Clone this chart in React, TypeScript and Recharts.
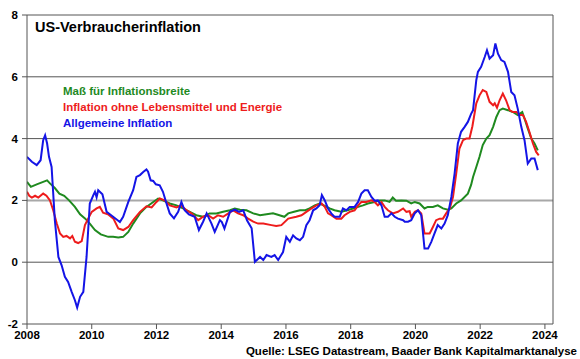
import React from "react";
import { LineChart, Line, XAxis, YAxis, ReferenceLine } from "recharts";

const xTicks = [2008, 2010, 2012, 2014, 2016, 2018, 2020, 2022, 2024];
const yTicks = [-2, 0, 2, 4, 6, 8];

const seriesNames = [
  "Maß für Inflationsbreite",
  "Inflation ohne Lebensmittel und Energie",
  "Allgemeine Inflation",
];

const blueDates = [2008.0, 2008.15, 2008.3, 2008.42, 2008.5, 2008.56, 2008.62, 2008.68, 2008.76, 2008.86, 2008.97, 2009.07, 2009.17, 2009.27, 2009.38, 2009.48, 2009.55, 2009.64, 2009.74, 2009.84, 2009.94, 2010.05, 2010.1, 2010.15, 2010.2, 2010.33, 2010.46, 2010.56, 2010.72, 2010.87, 2010.97, 2011.13, 2011.28, 2011.38, 2011.49, 2011.59, 2011.69, 2011.74, 2011.82, 2011.9, 2011.98, 2012.1, 2012.2, 2012.31, 2012.41, 2012.54, 2012.67, 2012.77, 2012.87, 2013.0, 2013.18, 2013.31, 2013.44, 2013.55, 2013.7, 2013.8, 2013.96, 2014.02, 2014.1, 2014.27, 2014.42, 2014.55, 2014.68, 2014.8, 2014.94, 2015.04, 2015.2, 2015.3, 2015.4, 2015.55, 2015.65, 2015.76, 2015.91, 2016.01, 2016.12, 2016.22, 2016.32, 2016.43, 2016.53, 2016.63, 2016.73, 2016.84, 2016.94, 2017.04, 2017.11, 2017.2, 2017.3, 2017.4, 2017.5, 2017.66, 2017.76, 2017.87, 2017.97, 2018.12, 2018.23, 2018.33, 2018.43, 2018.53, 2018.64, 2018.74, 2018.84, 2018.95, 2019.05, 2019.15, 2019.26, 2019.36, 2019.46, 2019.62, 2019.67, 2019.77, 2019.87, 2019.98, 2020.08, 2020.18, 2020.28, 2020.39, 2020.49, 2020.59, 2020.69, 2020.8, 2020.9, 2021.0, 2021.11, 2021.21, 2021.31, 2021.41, 2021.52, 2021.62, 2021.72, 2021.78, 2021.88, 2021.93, 2022.03, 2022.14, 2022.21, 2022.29, 2022.4, 2022.47, 2022.55, 2022.65, 2022.75, 2022.86, 2022.96, 2023.06, 2023.16, 2023.27, 2023.37, 2023.47, 2023.58, 2023.68, 2023.78];
const blueValues = [3.41, 3.25, 3.14, 3.3, 3.95, 4.11, 3.85, 3.41, 3.08, 1.36, 0.17, -0.1, -0.47, -0.64, -0.96, -1.23, -1.47, -1.12, -0.96, 0.17, 1.9, 2.17, 2.28, 2.1, 2.33, 2.2, 1.63, 1.55, 1.42, 1.3, 1.47, 1.95, 2.33, 2.76, 2.82, 2.92, 3.0, 2.93, 2.65, 2.63, 2.52, 2.49, 2.28, 1.9, 1.58, 1.42, 1.63, 1.95, 1.68, 1.55, 1.47, 1.04, 1.31, 1.58, 1.25, 0.98, 1.36, 1.3, 1.09, 1.63, 1.7, 1.63, 1.68, 1.35, 1.1, 0.01, 0.17, 0.07, 0.23, 0.17, 0.23, 0.07, 0.33, 0.82, 0.66, 0.87, 0.77, 0.71, 0.82, 1.2, 1.36, 1.68, 1.74, 1.84, 2.17, 2.0, 1.74, 1.58, 1.47, 1.47, 1.74, 1.68, 1.79, 1.79, 1.95, 2.22, 2.33, 2.33, 2.11, 1.99, 2.0, 1.84, 1.47, 1.47, 1.58, 1.47, 1.41, 1.36, 1.31, 1.31, 1.36, 1.58, 1.68, 1.52, 0.44, 0.44, 0.66, 0.93, 1.2, 1.09, 1.25, 1.52, 2.11, 2.87, 3.84, 4.22, 4.38, 4.54, 4.8, 4.92, 5.89, 6.16, 6.32, 6.64, 6.86, 6.59, 6.7, 7.08, 6.75, 6.54, 6.48, 6.16, 5.51, 5.4, 4.97, 4.38, 3.95, 3.19, 3.36, 3.36, 2.98];

const redDates = [2008.0, 2008.07, 2008.15, 2008.25, 2008.35, 2008.5, 2008.6, 2008.71, 2008.81, 2008.92, 2009.02, 2009.12, 2009.22, 2009.33, 2009.4, 2009.48, 2009.58, 2009.69, 2009.79, 2009.89, 2010.0, 2010.15, 2010.25, 2010.35, 2010.5, 2010.67, 2010.82, 2010.97, 2011.13, 2011.28, 2011.49, 2011.69, 2011.85, 2012.0, 2012.1, 2012.25, 2012.41, 2012.62, 2012.75, 2012.93, 2013.08, 2013.29, 2013.44, 2013.6, 2013.75, 2013.9, 2014.06, 2014.22, 2014.37, 2014.52, 2014.68, 2014.83, 2014.99, 2015.14, 2015.3, 2015.55, 2015.7, 2015.86, 2016.07, 2016.32, 2016.48, 2016.63, 2016.79, 2016.94, 2017.1, 2017.2, 2017.3, 2017.4, 2017.56, 2017.71, 2017.81, 2017.97, 2018.12, 2018.23, 2018.33, 2018.48, 2018.64, 2018.74, 2018.84, 2018.95, 2019.05, 2019.15, 2019.3, 2019.46, 2019.62, 2019.72, 2019.82, 2019.87, 2019.98, 2020.08, 2020.18, 2020.28, 2020.44, 2020.54, 2020.64, 2020.75, 2020.85, 2020.95, 2021.06, 2021.16, 2021.26, 2021.36, 2021.47, 2021.57, 2021.67, 2021.76, 2021.88, 2021.98, 2022.08, 2022.19, 2022.29, 2022.4, 2022.45, 2022.52, 2022.6, 2022.7, 2022.8, 2022.91, 2023.01, 2023.12, 2023.22, 2023.32, 2023.42, 2023.52, 2023.63, 2023.73, 2023.81];
const redValues = [2.28, 2.15, 2.09, 2.15, 2.09, 2.22, 2.15, 2.0, 1.68, 1.25, 0.93, 0.82, 0.85, 0.77, 0.85, 0.66, 0.62, 0.68, 1.2, 1.41, 1.63, 1.74, 1.79, 1.6, 1.55, 1.41, 1.09, 1.04, 1.14, 1.36, 1.63, 1.81, 1.77, 1.95, 2.06, 2.0, 1.84, 1.77, 1.84, 1.68, 1.58, 1.36, 1.47, 1.52, 1.41, 1.52, 1.47, 1.58, 1.68, 1.58, 1.52, 1.41, 1.31, 1.25, 1.25, 1.2, 1.17, 1.2, 1.41, 1.47, 1.52, 1.63, 1.74, 1.84, 1.9, 1.79, 1.58, 1.52, 1.41, 1.41, 1.52, 1.63, 1.68, 1.84, 1.95, 1.95, 2.0, 1.95, 1.84, 1.95, 1.79, 1.68, 1.58, 1.63, 1.74, 1.63, 1.65, 1.47, 1.63, 1.68, 1.58, 0.93, 0.93, 1.14, 1.36, 1.41, 1.41, 1.58, 1.74, 2.11, 2.87, 3.68, 3.95, 4.0, 4.0, 4.4, 5.14, 5.4, 5.57, 5.51, 5.19, 5.08, 5.14, 5.0, 5.24, 5.46, 5.24, 4.92, 4.86, 4.86, 4.76, 4.76, 4.54, 4.22, 3.84, 3.57, 3.46];

const greenDates = [2008.0, 2008.12, 2008.3, 2008.5, 2008.62, 2008.71, 2008.86, 2009.0, 2009.15, 2009.3, 2009.48, 2009.64, 2009.8, 2009.94, 2010.1, 2010.28, 2010.51, 2010.66, 2010.82, 2010.97, 2011.13, 2011.28, 2011.49, 2011.69, 2011.9, 2012.05, 2012.2, 2012.41, 2012.62, 2012.82, 2013.03, 2013.23, 2013.44, 2013.64, 2013.85, 2014.06, 2014.27, 2014.42, 2014.58, 2014.78, 2014.99, 2015.2, 2015.4, 2015.6, 2015.8, 2015.95, 2016.07, 2016.25, 2016.43, 2016.6, 2016.73, 2016.89, 2017.04, 2017.2, 2017.35, 2017.5, 2017.71, 2017.9, 2018.07, 2018.23, 2018.38, 2018.53, 2018.74, 2018.9, 2019.05, 2019.2, 2019.3, 2019.4, 2019.56, 2019.72, 2019.87, 2019.98, 2020.13, 2020.28, 2020.38, 2020.54, 2020.69, 2020.85, 2021.0, 2021.11, 2021.26, 2021.41, 2021.62, 2021.72, 2021.78, 2021.88, 2021.98, 2022.08, 2022.19, 2022.29, 2022.4, 2022.5, 2022.6, 2022.7, 2022.86, 2023.01, 2023.16, 2023.3, 2023.37, 2023.47, 2023.58, 2023.68, 2023.78];
const greenValues = [2.6, 2.44, 2.52, 2.6, 2.65, 2.55, 2.4, 2.22, 2.15, 2.0, 1.79, 1.55, 1.41, 1.25, 1.04, 0.9, 0.82, 0.82, 0.8, 0.82, 0.98, 1.25, 1.58, 1.79, 1.95, 2.06, 2.0, 1.9, 1.84, 1.74, 1.63, 1.52, 1.47, 1.58, 1.58, 1.63, 1.68, 1.74, 1.7, 1.68, 1.58, 1.52, 1.55, 1.58, 1.52, 1.47, 1.58, 1.63, 1.68, 1.68, 1.74, 1.84, 1.9, 1.82, 1.74, 1.68, 1.63, 1.68, 1.74, 1.79, 1.84, 1.9, 1.95, 2.0, 2.0, 1.95, 2.09, 1.99, 2.0, 1.99, 1.9, 1.95, 1.9, 1.74, 1.79, 1.79, 1.84, 1.74, 1.7, 1.74, 1.9, 2.0, 2.22, 2.5, 2.76, 3.08, 3.41, 3.79, 4.0, 4.11, 4.38, 4.7, 4.92, 4.97, 4.92, 4.86, 4.76, 4.86, 4.65, 4.33, 4.0, 3.84, 3.62];

const zip = (d: number[], v: number[]) => d.map((x, i) => ({ x, v: v[i] }));
const blueData = zip(blueDates, blueValues);
const redData = zip(redDates, redValues);
const greenData = zip(greenDates, greenValues);

const FONT = "'Liberation Sans', Arial, sans-serif";
const GREEN = "#1f8a1f";
const RED = "#ee1c1c";
const BLUE = "#1414e6";

export default function App() {
  const txt: React.CSSProperties = {
    position: "absolute",
    fontFamily: FONT,
    fontWeight: "bold",
    whiteSpace: "nowrap",
    lineHeight: 1,
  };
  return (
    <div style={{ position: "absolute", left: 0, top: 0, width: 580, height: 359, background: "#fff", overflow: "hidden" }}>
      <LineChart
        width={580}
        height={359}
        margin={{ top: 15, right: 27, bottom: 5, left: 0 }}
      >
        <XAxis
          dataKey="x"
          type="number"
          domain={[2008, 2024.25]}
          ticks={xTicks}
          allowDataOverflow
          height={30}
          tickLine={{ stroke: "#555" }}
          axisLine={{ stroke: "#555" }}
          tickSize={5}
          tickMargin={2}
          interval={0}
          tick={{ fontFamily: FONT, fontWeight: "bold", fontSize: 11.5, fill: "#000" }}
        />
        <YAxis
          type="number"
          domain={[-2, 8]}
          ticks={yTicks}
          width={27}
          allowDataOverflow
          tickLine={{ stroke: "#555" }}
          axisLine={{ stroke: "#555" }}
          tickSize={5}
          tickMargin={4}
          interval={0}
          tick={{ fontFamily: FONT, fontWeight: "bold", fontSize: 11.5, fill: "#000" }}
        />
        <ReferenceLine y={8} stroke="#555" strokeWidth={1} />
        <ReferenceLine y={6} stroke="#555" strokeWidth={1} />
        <ReferenceLine y={4} stroke="#555" strokeWidth={1} />
        <ReferenceLine y={2} stroke="#a8a8a8" strokeWidth={2} />
        <ReferenceLine y={0} stroke="#555" strokeWidth={1} />
        <ReferenceLine x={2024.25} stroke="#555" strokeWidth={1} />
        <Line data={greenData} dataKey="v" name={seriesNames[0]} stroke={GREEN} strokeWidth={2} dot={false} isAnimationActive={false} />
        <Line data={redData} dataKey="v" name={seriesNames[1]} stroke={RED} strokeWidth={2} dot={false} isAnimationActive={false} />
        <Line data={blueData} dataKey="v" name={seriesNames[2]} stroke={BLUE} strokeWidth={2} dot={false} isAnimationActive={false} />
      </LineChart>
      <div style={{ ...txt, left: 35, top: 20, fontSize: 14.5, color: "#000" }}>US-Verbraucherinflation</div>
      <div style={{ ...txt, left: 63, top: 86, fontSize: 11.5, color: GREEN }}>{seriesNames[0]}</div>
      <div style={{ ...txt, left: 63, top: 102, fontSize: 11.5, color: RED }}>{seriesNames[1]}</div>
      <div style={{ ...txt, left: 63, top: 118, fontSize: 11.5, color: BLUE }}>{seriesNames[2]}</div>
      <div style={{ ...txt, right: 3, top: 346, fontSize: 11.5, color: "#000" }}>Quelle: LSEG Datastream, Baader Bank Kapitalmarktanalyse</div>
    </div>
  );
}
